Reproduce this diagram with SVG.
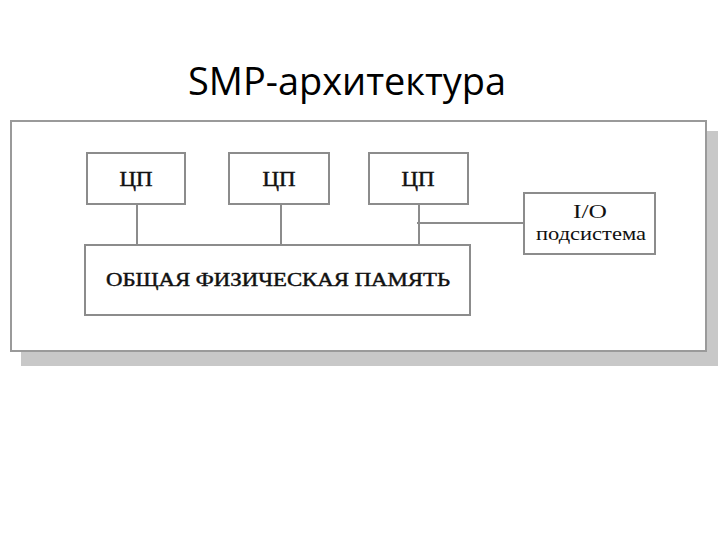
<svg xmlns="http://www.w3.org/2000/svg" width="720" height="540" viewBox="0 0 720 540">
<style>
.box{fill:#fff;stroke:#8c8c8c;stroke-width:2}
.lbl{font-family:"Liberation Serif",serif;fill:#111;text-anchor:middle;stroke:#111;stroke-width:0.45}
.lbl2{font-family:"Liberation Serif",serif;fill:#111;text-anchor:middle}
.con{stroke:#8c8c8c;stroke-width:2;fill:none}
</style>
<rect width="720" height="540" fill="#fff"/>
<text x="347" y="95" font-family="'Open Sans','Liberation Sans',sans-serif" font-size="39" fill="#000" text-anchor="middle" textLength="318" lengthAdjust="spacingAndGlyphs">SMP-архитектура</text>
<g id="frame">
<rect x="21" y="131" width="697" height="235" fill="#c8c8c8"/>
<rect x="11" y="121" width="695" height="230" fill="#fff" stroke="#9a9a9a" stroke-width="2"/>
</g>
<g id="connectors">
<line class="con" x1="137" y1="204" x2="137" y2="245"/>
<line class="con" x1="281" y1="204" x2="281" y2="245"/>
<line class="con" x1="419" y1="204" x2="419" y2="245"/>
<line class="con" x1="417" y1="223" x2="524" y2="223"/>
</g>
<g id="cpu1">
<rect class="box" x="87" y="153" width="98" height="51"/>
<text class="lbl" x="136" y="186" font-size="20" textLength="33" lengthAdjust="spacingAndGlyphs">ЦП</text>
</g>
<g id="cpu2">
<rect class="box" x="229" y="153" width="100" height="51"/>
<text class="lbl" x="279" y="186" font-size="20" textLength="33" lengthAdjust="spacingAndGlyphs">ЦП</text>
</g>
<g id="cpu3">
<rect class="box" x="369" y="153" width="99" height="51"/>
<text class="lbl" x="418" y="186" font-size="20" textLength="33" lengthAdjust="spacingAndGlyphs">ЦП</text>
</g>
<g id="memory">
<rect class="box" x="85" y="245" width="385" height="70"/>
<text class="lbl" x="278" y="286" font-size="19" textLength="344" lengthAdjust="spacingAndGlyphs">ОБЩАЯ ФИЗИЧЕСКАЯ ПАМЯТЬ</text>
</g>
<g id="io">
<rect class="box" x="524" y="193" width="131" height="61"/>
<text class="lbl2" x="590" y="218" font-size="19" textLength="34" lengthAdjust="spacingAndGlyphs">I/O</text>
<text class="lbl2" x="591" y="240" font-size="19" textLength="110" lengthAdjust="spacingAndGlyphs">подсистема</text>
</g>
</svg>
